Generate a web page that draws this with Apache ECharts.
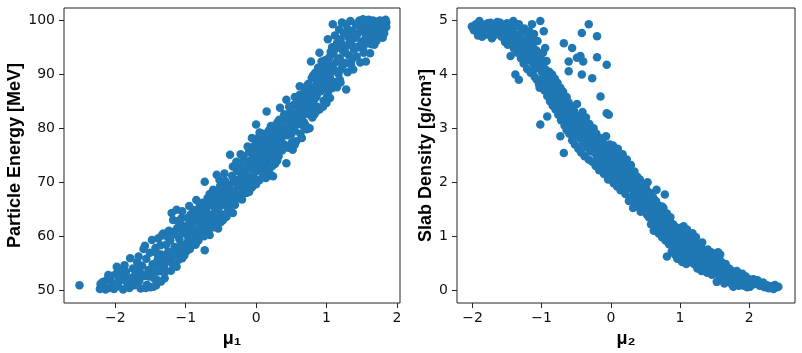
<!DOCTYPE html>
<html>
<head>
<meta charset="utf-8">
<script src="https://cdn.jsdelivr.net/npm/echarts@6/dist/echarts.min.js"></script>
<style>
  html, body { margin: 0; padding: 0; background: #fff; }
  #chart { width: 802px; height: 353px; }
</style>
</head>
<body>
<div id="chart"></div>
<script>
// tick labels
const mu1Ticks = [-2, -1, 0, 1, 2];
const energyTicks = [50, 60, 70, 80, 90, 100];
const mu2Ticks = [-2, -1, 0, 1, 2];
const densityTicks = [0, 1, 2, 3, 4, 5];

// [mu1, particle energy MeV]
const energyPoints = [
  [-2.51,50.9],
  [-2.22,50.2],[-2.21,51.1],[-2.17,50.6],[-2.14,50.1],[-2.12,51.9],[-2.09,50.4],[-2.06,52.6],[-2.04,51.3],[-2.02,50.2],
  [-1.99,53.0],[-1.98,54.3],[-1.96,50.7],[-1.93,51.8],[-1.91,52.7],[-1.89,50.1],[-1.87,54.6],[-1.85,53.4],[-1.83,51.2],[-1.8,50.4],
  [-1.79,55.9],[-1.77,52.3],[-1.75,54.0],[-1.73,50.9],[-1.71,53.1],[-1.69,55.2],[-1.67,56.2],[-1.66,51.7],[-1.64,50.3],[-1.62,54.5],
  [-1.6,57.6],[-1.59,52.6],[-1.58,58.2],[-1.56,55.8],[-1.55,51.0],[-1.53,53.7],[-1.51,56.9],[-1.5,50.5],[-1.48,59.3],[-1.47,54.8],
  [-1.45,52.2],[-1.43,57.8],[-1.42,50.9],[-1.4,55.6],[-1.39,59.6],[-1.37,53.5],[-1.35,56.6],[-1.34,60.1],[-1.32,60.5],[-1.31,54.4],
  [-1.3,52.2],[-1.28,58.4],[-1.27,55.4],[-1.25,57.1],[-1.24,61.0],[-1.22,59.2],[-1.21,53.6],[-1.2,64.3],[-1.19,56.3],[-1.18,63.0],
  [-1.16,58.0],[-1.15,60.3],[-1.13,64.9],[-1.13,54.3],[-1.12,61.5],[-1.1,57.0],[-1.09,59.4],[-1.07,62.2],[-1.05,55.9],[-1.04,60.6],
  [-1.02,58.3],[-1.0,61.8],[-0.99,57.2],[-0.97,63.4],[-0.96,59.8],[-0.94,60.9],[-0.92,58.6],[-0.91,62.5],[-0.89,64.8],[-0.88,61.2],
  [-0.86,59.4],[-0.85,66.7],[-0.84,63.1],[-0.82,60.4],[-0.8,62.0],[-0.79,64.2],[-0.77,61.1],[-0.75,63.5],[-0.73,70.1],[-0.73,57.4],
  [-0.72,65.3],[-0.7,62.6],[-0.69,67.0],[-0.67,64.0],[-0.66,61.8],[-0.64,65.8],[-0.62,63.2],[-0.61,68.6],[-0.6,66.4],[-0.58,64.6],
  [-0.56,71.4],[-0.56,62.9],[-0.55,67.5],[-0.53,65.2],[-0.51,69.3],[-0.5,63.8],[-0.48,66.8],[-0.47,63.0],[-0.46,68.4],[-0.44,70.2],
  [-0.43,65.7],[-0.41,67.6],[-0.4,64.5],[-0.38,69.5],[-0.37,75.1],[-0.36,66.9],[-0.34,71.2],[-0.33,72.9],[-0.33,64.3],[-0.31,68.4],
  [-0.3,70.0],[-0.28,67.0],[-0.27,72.1],[-0.25,69.2],[-0.24,73.6],[-0.22,70.8],[-0.21,67.8],[-0.19,72.4],[-0.18,74.8],[-0.17,69.6],
  [-0.15,71.5],[-0.14,68.0],[-0.13,73.8],[-0.11,70.4],[-0.1,75.6],[-0.09,72.6],[-0.07,69.4],[-0.06,74.2],[-0.05,76.5],[-0.04,71.3],
  [-0.02,73.1],[-0.01,77.7],[0.0,80.7],[0.0,74.6],[0.01,70.3],[0.02,72.2],[0.03,76.0],[0.04,78.4],[0.05,70.4],[0.06,73.9],
  [0.07,75.3],[0.08,77.1],[0.09,71.6],[0.1,79.0],[0.11,74.2],[0.12,76.6],[0.13,72.8],[0.14,78.0],[0.15,83.1],[0.15,75.4],
  [0.16,73.5],[0.17,77.4],[0.18,79.6],[0.19,71.8],[0.2,76.1],[0.21,74.6],[0.22,78.8],[0.24,71.1],[0.24,77.0],[0.25,80.3],
  [0.26,75.2],[0.27,73.4],[0.28,79.1],[0.3,77.8],[0.31,81.2],[0.32,74.8],[0.33,76.5],[0.34,83.8],[0.35,79.8],[0.36,78.2],
  [0.37,75.9],[0.39,81.8],[0.4,77.0],[0.41,80.4],[0.43,85.3],[0.43,73.5],[0.44,78.7],[0.45,82.3],[0.46,76.4],[0.48,80.1],
  [0.49,83.2],[0.5,78.9],[0.52,76.0],[0.52,81.6],[0.53,84.3],[0.55,79.6],[0.56,82.7],[0.57,77.6],[0.59,85.1],[0.6,80.8],
  [0.61,83.5],[0.62,86.2],[0.62,87.8],[0.63,79.0],[0.65,82.1],[0.66,84.6],[0.68,81.1],[0.69,86.7],[0.7,83.3],[0.72,79.8],
  [0.73,85.6],[0.74,88.2],[0.76,80.0],[0.76,83.9],[0.77,86.5],[0.78,92.4],[0.79,89.3],[0.8,84.8],[0.82,87.4],[0.83,82.6],
  [0.84,90.3],[0.86,85.9],[0.87,88.6],[0.88,91.2],[0.9,94.0],[0.9,83.5],[0.91,86.8],[0.92,89.6],[0.94,87.6],[0.95,91.4],
  [0.96,85.1],[0.97,89.0],[0.98,92.6],[1.0,84.7],[1.0,88.0],[1.01,90.5],[1.02,96.5],[1.03,86.9],[1.04,93.1],[1.05,89.4],
  [1.07,91.7],[1.08,95.0],[1.09,99.3],[1.09,87.5],[1.1,93.8],[1.11,90.6],[1.12,97.2],[1.13,88.6],[1.14,92.3],[1.15,95.8],
  [1.17,90.1],[1.18,98.3],[1.19,93.0],[1.2,96.5],[1.21,91.0],[1.22,99.6],[1.23,94.4],[1.25,97.6],[1.26,92.1],[1.28,87.2],
  [1.28,99.3],[1.29,95.3],[1.3,90.4],[1.31,97.0],[1.32,93.5],[1.34,99.9],[1.35,95.9],[1.36,92.7],[1.37,98.1],[1.38,90.9],
  [1.39,94.6],[1.41,96.8],[1.42,99.2],[1.43,93.3],[1.44,97.5],[1.46,95.2],[1.47,100.0],[1.48,92.2],[1.49,98.4],[1.5,96.1],
  [1.52,100.2],[1.53,94.0],[1.54,97.8],[1.55,99.4],[1.56,92.4],[1.57,95.7],[1.58,98.9],[1.6,100.1],[1.61,96.6],[1.62,93.9],
  [1.63,99.0],[1.65,97.3],[1.66,100.0],[1.68,95.5],[1.69,98.6],[1.7,99.8],[1.72,97.1],[1.74,99.4],[1.76,100.0],[1.78,98.4],
  [1.8,96.8],[1.82,99.8],[1.84,100.1],[1.85,99.6],[1.85,98.8],
  [-2.18,51.5],[-2.1,52.8],[-2.0,50.9],[-1.95,52.3],[-1.9,53.5],[-1.84,52.0],[-1.78,51.0],[-1.72,52.4],[-1.68,54.2],[-1.63,53.0],
  [-1.57,50.4],[-1.52,52.5],[-1.46,50.6],[-1.44,53.4],[-1.41,56.8],[-1.36,58.3],[-1.33,55.2],[-1.26,59.9],[-1.23,56.0],[-1.17,60.8],
  [-1.14,57.6],[-1.11,62.8],[-1.08,58.2],[-1.06,63.3],[-1.03,61.0],[-0.98,60.2],[-0.95,62.4],[-0.93,64.0],[-0.9,61.0],[-0.87,63.8],
  [-0.83,65.0],[-0.81,61.5],[-0.78,63.0],[-0.76,66.2],[-0.74,62.2],[-0.71,64.6],[-0.68,65.6],[-0.65,63.0],[-0.63,67.2],[-0.59,65.4],
  [-0.57,68.0],[-0.54,64.2],[-0.52,66.4],[-0.49,68.2],[-0.45,66.0],[-0.42,69.0],[-0.39,66.0],[-0.35,68.0],[-0.32,70.6],[-0.29,72.8],
  [-0.26,70.2],[-0.23,72.0],[-0.2,69.0],[-0.16,73.2],[-0.12,71.0],[-0.08,74.0],[-0.05,70.5],[-0.03,75.2],[-0.01,72.0],[0.02,77.0],
  [0.03,73.2],[0.05,79.2],[0.06,75.4],[0.08,72.8],[0.1,76.8],[0.11,78.2],[0.13,74.6],[0.14,70.8],[0.16,76.0],[0.18,73.0],
  [0.19,77.8],[0.21,80.4],[0.22,75.6],[0.23,73.0],[0.25,78.0],[0.27,76.2],[0.29,80.8],[0.3,74.0],[0.32,78.6],[0.33,81.6],
  [0.35,77.2],[0.38,79.4],[0.4,82.6],[0.42,76.6],[0.44,81.0],[0.46,79.0],[0.47,84.0],[0.5,82.0],[0.51,77.4],[0.54,80.8],
  [0.55,85.8],[0.58,81.8],[0.6,84.0],[0.63,82.8],[0.64,85.6],[0.67,80.4],[0.68,83.6],[0.71,85.2],[0.72,87.8],[0.75,82.6],
  [0.77,84.2],[0.8,87.0],[0.81,89.8],[0.83,85.4],[0.85,88.0],[0.87,84.0],[0.89,90.4],[0.92,87.0],[0.93,92.4],[0.96,88.2],
  [0.99,90.0],[1.01,86.0],[1.03,91.6],[1.06,88.0],[1.06,94.2],[1.1,91.0],[1.13,94.8],[1.16,92.6],[1.19,89.0],[1.22,95.6],
  [1.24,91.8],[1.27,94.0],[1.3,98.4],[1.33,96.4],[1.35,91.8],[1.4,97.4],[1.44,95.0],[1.45,99.6],[1.5,98.2],[1.52,94.6],
  [1.56,96.8],[1.59,99.6],[1.62,97.6],[1.64,95.6],[1.67,98.2],[1.71,96.2],[1.75,98.0],[1.79,99.6],[1.82,97.6],
  [-1.42,52.0],[-1.38,54.6],[-1.35,51.6],[-1.29,53.4],[-1.26,55.8],[-1.2,55.0],[-1.17,56.8],[-1.1,55.6],[-1.06,57.4],[-1.02,56.4],
  [-0.98,58.8],[-0.94,57.6],[-0.9,59.8],[-0.86,58.4],[-0.82,59.2],[-0.78,60.6],[-0.74,60.0],[-0.7,61.0],[-0.66,60.2],[-0.62,61.6],
  [-0.58,62.2],[-0.54,61.4],[-0.5,62.6],[-0.46,64.0],[-0.42,63.6],[-0.38,65.2],[-0.34,66.2],[-0.3,65.8],[-0.26,67.4],[-0.2,66.8],
  [-0.16,68.6],[-0.1,68.2],[-0.06,69.0],[0.0,69.6],
  [-1.05,64.6],[-0.95,65.6],[-0.8,66.0],[-0.66,67.8],[-0.52,70.4],[-0.45,71.6],[-0.28,73.8],[-0.22,75.2],[-0.12,76.6],[-0.06,78.2],
  [0.55,77.0],[0.65,78.2],[0.7,80.6],[0.8,82.0],[0.85,83.0],[0.95,84.0],[1.05,85.6],[1.15,87.6],[1.2,88.5]
];

// [mu2, slab density g/cm3]
const densityPoints = [
  [-2.01,4.89],[-1.95,4.93],[-1.9,4.99],[-1.89,4.77],[-1.88,4.83],[-1.86,4.70],[-1.83,4.87],[-1.8,4.74],[-1.78,4.95],[-1.76,4.80],
  [-1.74,4.96],[-1.72,4.67],[-1.7,4.86],[-1.68,4.92],[-1.66,4.75],[-1.64,4.97],[-1.62,4.83],[-1.6,4.96],[-1.58,4.70],[-1.57,4.88],
  [-1.55,4.78],[-1.53,4.60],[-1.52,4.92],[-1.5,4.84],[-1.49,4.55],[-1.47,4.72],[-1.45,4.34],[-1.45,4.90],[-1.43,4.65],[-1.42,4.80],
  [-1.41,4.99],[-1.4,4.48],[-1.39,4.62],[-1.38,4.0],[-1.37,4.74],[-1.36,4.90],[-1.35,4.40],[-1.34,4.55],[-1.33,3.9],[-1.33,4.93],
  [-1.32,4.68],[-1.3,4.30],[-1.29,4.78],[-1.28,4.47],[-1.27,4.60],[-1.26,4.20],[-1.25,4.85],[-1.24,4.38],[-1.22,4.52],[-1.21,4.10],
  [-1.2,4.70],[-1.19,4.26],[-1.18,4.44],[-1.17,4.62],[-1.16,4.03],[-1.15,4.35],[-1.14,4.93],[-1.13,4.52],[-1.12,4.20],[-1.11,4.75],
  [-1.1,3.95],[-1.09,4.30],[-1.08,4.45],[-1.07,3.9],[-1.06,4.62],[-1.05,4.15],[-1.04,3.82],[-1.03,3.75],[-1.02,4.99],[-1.02,3.07],
  [-1.01,4.28],[-1.0,4.05],[-0.99,3.92],[-0.98,4.40],[-0.97,4.80],[-0.96,3.70],[-0.95,4.49],[-0.95,4.10],[-0.94,3.85],[-0.93,4.25],
  [-0.92,3.22],[-0.92,3.60],[-0.91,3.98],[-0.9,3.75],[-0.89,4.05],[-0.88,3.50],[-0.87,3.88],[-0.86,3.66],[-0.85,4.00],[-0.84,3.42],
  [-0.83,3.78],[-0.82,3.58],[-0.81,3.92],[-0.8,3.35],[-0.79,3.70],[-0.78,3.50],[-0.77,3.84],[-0.76,3.25],[-0.75,3.62],[-0.74,3.42],
  [-0.73,2.85],[-0.73,3.75],[-0.72,3.15],[-0.71,3.55],[-0.7,3.32],[-0.69,3.68],[-0.68,4.58],[-0.68,2.54],[-0.67,3.05],[-0.66,3.45],
  [-0.65,3.22],[-0.64,2.97],[-0.64,3.58],[-0.63,3.35],[-0.62,3.12],[-0.61,4.24],[-0.61,4.06],[-0.61,3.48],[-0.6,2.90],[-0.59,3.25],
  [-0.58,3.05],[-0.57,3.40],[-0.56,4.49],[-0.56,2.78],[-0.55,3.18],[-0.54,2.98],[-0.53,3.32],[-0.52,2.70],[-0.51,3.10],[-0.5,2.88],
  [-0.49,4.31],[-0.49,3.45],[-0.48,3.0],[-0.47,2.62],[-0.46,3.22],[-0.45,2.82],[-0.44,4.34],[-0.44,3.05],[-0.43,2.55],[-0.42,4.77],
  [-0.42,4.0],[-0.42,2.95],[-0.41,3.30],[-0.4,4.24],[-0.4,2.72],[-0.39,3.12],[-0.38,2.48],[-0.37,2.90],[-0.36,3.20],[-0.35,2.65],
  [-0.34,3.02],[-0.33,2.80],[-0.32,4.93],[-0.32,2.42],[-0.31,3.08],[-0.3,2.58],[-0.29,2.92],[-0.28,2.72],[-0.27,3.93],[-0.27,2.38],
  [-0.26,2.85],[-0.25,3.00],[-0.24,2.55],[-0.23,2.68],[-0.22,2.30],[-0.21,2.90],[-0.2,4.71],[-0.2,4.32],[-0.2,2.48],[-0.19,2.75],
  [-0.18,2.60],[-0.17,2.22],[-0.16,2.82],[-0.15,3.59],[-0.15,2.45],[-0.14,2.65],[-0.13,2.35],[-0.12,2.78],[-0.11,2.52],[-0.1,2.15],
  [-0.09,2.68],[-0.08,2.40],[-0.07,2.85],[-0.06,4.18],[-0.06,3.28],[-0.06,2.28],[-0.05,2.58],[-0.04,2.05],[-0.03,3.25],[-0.03,2.48],
  [-0.02,2.70],[-0.01,2.32],[0.0,2.55],[0.01,2.12],[0.02,2.42],[0.03,2.68],[0.04,1.98],[0.05,2.30],[0.06,2.52],[0.07,2.18],
  [0.08,2.40],[0.09,1.92],[0.1,2.62],[0.11,2.25],[0.12,2.05],[0.13,2.45],[0.14,1.85],[0.15,2.30],[0.16,2.12],[0.17,2.52],
  [0.18,1.95],[0.19,2.38],[0.2,2.18],[0.21,1.78],[0.22,2.02],[0.23,2.42],[0.24,1.88],[0.25,2.22],[0.26,1.65],[0.27,2.08],
  [0.28,1.95],[0.29,2.32],[0.3,1.72],[0.31,2.12],[0.32,1.52],[0.33,1.88],[0.34,2.20],[0.35,1.62],[0.36,1.98],[0.37,1.80],
  [0.38,2.10],[0.39,1.55],[0.4,1.90],[0.41,1.72],[0.42,2.05],[0.43,1.45],[0.44,1.82],[0.45,1.62],[0.46,1.95],[0.47,1.50],
  [0.48,1.75],[0.5,1.58],[0.51,1.88],[0.52,1.40],[0.53,2.0],[0.54,1.68],[0.55,1.35],[0.56,1.52],[0.57,1.80],[0.58,1.22],
  [0.59,1.62],[0.6,1.45],[0.61,1.72],[0.62,1.10],[0.63,1.55],[0.64,1.30],[0.65,1.65],[0.66,1.86],[0.66,1.18],[0.67,1.42],
  [0.68,1.58],[0.69,1.05],[0.7,1.32],[0.71,1.48],[0.72,1.15],[0.73,1.40],[0.74,0.98],[0.75,1.25],[0.76,1.52],[0.77,1.08],
  [0.78,1.77],[0.78,1.35],[0.79,0.92],[0.8,1.18],[0.81,0.62],[0.81,1.42],[0.82,1.02],[0.83,1.28],[0.84,0.85],[0.85,1.12],
  [0.86,1.35],[0.87,0.95],[0.88,0.72],[0.89,1.05],[0.9,1.22],[0.91,0.82],[0.92,0.98],[0.93,0.65],[0.94,1.15],[0.95,0.88],
  [0.96,0.58],[0.97,1.02],[0.98,0.75],[0.99,0.92],[1.0,0.62],[1.01,1.10],[1.02,0.80],[1.03,0.52],[1.04,0.95],[1.05,0.70],
  [1.06,1.02],[1.07,0.60],[1.08,0.85],[1.09,0.48],[1.1,0.72],[1.11,0.95],[1.12,0.58],[1.13,0.80],[1.14,0.68],[1.15,0.90],
  [1.16,0.52],[1.17,0.75],[1.18,0.62],[1.19,0.85],[1.2,0.48],[1.22,0.70],[1.23,0.56],[1.24,0.80],[1.25,0.40],[1.26,0.62],
  [1.27,0.50],[1.28,0.72],[1.3,0.58],[1.31,0.35],[1.32,0.88],[1.33,0.48],[1.34,0.65],[1.36,0.42],[1.37,0.55],[1.38,0.72],
  [1.39,0.32],[1.4,0.48],[1.42,0.62],[1.43,0.38],[1.44,0.52],[1.45,0.70],[1.46,0.28],[1.47,0.45],[1.49,0.58],[1.5,0.36],
  [1.51,0.48],[1.53,0.15],[1.53,0.62],[1.54,0.30],[1.55,0.70],[1.56,0.42],[1.57,0.54],[1.58,0.66],[1.58,0.22],[1.6,0.36],
  [1.61,0.48],[1.63,0.25],[1.64,0.12],[1.65,0.38],[1.67,0.20],[1.68,0.30],[1.7,0.15],[1.71,0.40],[1.73,0.24],[1.75,0.10],
  [1.76,0.32],[1.77,0.06],[1.78,0.18],[1.8,0.28],[1.81,0.12],[1.83,0.22],[1.85,0.08],[1.86,0.30],[1.88,0.14],[1.9,0.20],
  [1.92,0.08],[1.94,0.16],[1.96,0.19],[1.97,0.05],[1.99,0.12],[2.01,0.06],[2.03,0.15],[2.06,0.20],[2.1,0.12],[2.15,0.08],
  [2.2,0.14],[2.22,0.05],[2.25,0.09],[2.28,0.03],[2.31,0.07],[2.35,0.02],[2.37,0.09],[2.4,0.05],[2.42,0.06],
  [-1.98,4.82],[-1.92,4.72],[-1.85,4.92],[-1.79,4.85],[-1.73,4.78],[-1.69,4.72],[-1.63,4.88],[-1.59,4.80],[-1.54,4.70],[-1.5,4.95],
  [-1.47,4.62],[-1.44,4.78],[-1.4,4.70],[-1.38,4.52],[-1.31,4.55],[-1.29,4.40],[-1.23,4.62],[-1.2,4.35],[-1.18,4.80],[-1.14,4.25],
  [-1.12,4.62],[-1.1,4.10],[-1.05,4.40],[-1.0,4.22],[-0.97,4.0],[-0.94,3.95],[-0.9,3.90],[-0.88,3.68],[-0.86,3.82],[-0.84,3.70],
  [-0.8,3.62],[-0.78,3.40],[-0.75,3.50],[-0.72,3.48],[-0.7,3.20],[-0.67,3.30],[-0.65,3.45],[-0.63,3.20],[-0.6,3.38],[-0.58,3.15],
  [-0.55,3.35],[-0.52,3.05],[-0.5,3.20],[-0.47,2.92],[-0.45,3.12],[-0.43,2.85],[-0.41,3.05],[-0.38,2.80],[-0.36,3.00],[-0.34,2.65],
  [-0.31,2.85],[-0.29,2.68],[-0.26,2.62],[-0.24,2.82],[-0.22,2.58],[-0.19,2.45],[-0.17,2.70],[-0.14,2.55],[-0.12,2.40],[-0.1,2.60],
  [-0.08,2.30],[-0.05,2.42],[-0.03,2.20],[0.0,2.35],[0.02,2.22],[0.04,2.48],[0.06,2.10],[0.08,2.25],[0.1,2.40],[0.12,2.20],
  [0.14,2.05],[0.16,2.35],[0.18,2.15],[0.2,1.98],[0.22,2.28],[0.24,2.12],[0.26,1.92],[0.28,2.18],[0.3,1.88],[0.32,1.75],
  [0.34,2.02],[0.36,1.85],[0.38,1.68],[0.4,1.78],[0.42,1.60],[0.44,1.95],[0.46,1.72],[0.48,1.55],[0.5,1.82],[0.52,1.62],
  [0.54,1.48],[0.56,1.72],[0.58,1.55],[0.6,1.30],[0.62,1.62],[0.64,1.45],[0.66,1.28],[0.68,1.48],[0.7,1.20],[0.72,1.38],
  [0.74,1.55],[0.76,1.18],[0.8,1.30],[0.82,1.15],[0.84,1.05],[0.86,1.25],[0.88,0.95],[0.9,1.10],[0.92,1.18],[0.95,1.02],
  [0.97,0.82],[1.0,1.15],[1.02,0.98],[1.05,1.18],[1.08,0.95],[1.1,1.12],[1.13,0.98],[1.16,0.85],[1.18,1.05],[1.2,0.92],
  [1.23,0.98],[1.26,0.85],[1.3,0.80],[1.33,0.75],[1.36,0.68],[1.4,0.75],[1.44,0.65],[1.48,0.55],[1.52,0.52],[1.56,0.60],
  [1.6,0.52],[1.62,0.42],[1.66,0.48],[1.7,0.30],[1.74,0.36],[1.78,0.30],[1.82,0.35],[1.87,0.22],[1.9,0.30],[1.95,0.25],
  [2.0,0.20],[2.05,0.10],[2.12,0.18]
];

const dotColor = '#1f77b4';
const frameColor = '#222';
const tickFont = 'DejaVu Sans';
const titleFont = 'Liberation Sans';

function minusFmt(v) {
  return String(v).replace('-', '\u2212');
}

function valueAxis(gridIndex, min, max, ticks, name, nameGap, isY) {
  return {
    type: 'value',
    gridIndex: gridIndex,
    min: min,
    max: max,
    name: name,
    nameLocation: 'middle',
    nameGap: nameGap,
    nameRotate: isY ? 90 : 0,
    nameTextStyle: { fontFamily: titleFont, fontWeight: 'bold', fontSize: 18, color: '#000' },
    axisLine: { show: false, onZero: false },
    splitLine: { show: false },
    axisTick: { show: true, inside: false, length: 5, customValues: ticks, lineStyle: { color: frameColor, width: 1 } },
    axisLabel: {
      show: true, customValues: ticks, margin: isY ? 9 : 8,
      fontFamily: tickFont, fontSize: 14, color: '#111',
      formatter: minusFmt
    }
  };
}

const chart = echarts.init(document.getElementById('chart'), null, { renderer: 'canvas' });

chart.setOption({
  animation: false,
  backgroundColor: '#fff',
  grid: [
    { left: 64, top: 8, width: 336, height: 295, show: true, borderColor: frameColor, borderWidth: 1, backgroundColor: 'transparent' },
    { left: 457, top: 8, width: 338, height: 295, show: true, borderColor: frameColor, borderWidth: 1, backgroundColor: 'transparent' }
  ],
  xAxis: [
    valueAxis(0, -2.73, 2.045, mu1Ticks, 'μ₁', 24, false),
    valueAxis(1, -2.224, 2.661, mu2Ticks, 'μ₂', 24, false)
  ],
  yAxis: [
    valueAxis(0, 47.6, 102.3, energyTicks, 'Particle Energy [MeV]', 35, true),
    valueAxis(1, -0.242, 5.232, densityTicks, 'Slab Density [g/cm³]', 21, true)
  ],
  series: [
    {
      type: 'scatter', xAxisIndex: 0, yAxisIndex: 0,
      data: energyPoints, symbolSize: 8.5,
      itemStyle: { color: dotColor, opacity: 1 }
    },
    {
      type: 'scatter', xAxisIndex: 1, yAxisIndex: 1,
      data: densityPoints, symbolSize: 8.5,
      itemStyle: { color: dotColor, opacity: 1 }
    }
  ]
});
</script>
</body>
</html>
